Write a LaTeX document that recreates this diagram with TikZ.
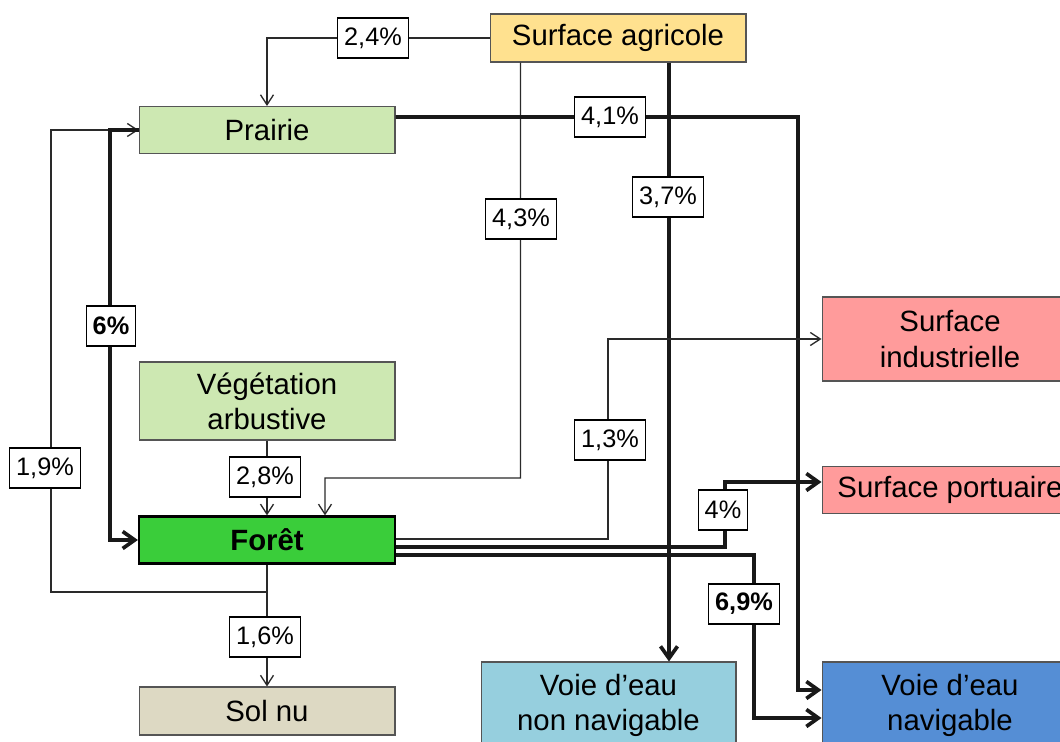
\documentclass[tikz,border=0pt]{standalone}
\usepackage{fontspec}
\setmainfont{Liberation Sans}
\usetikzlibrary{arrows.meta}
\definecolor{cagri}{HTML}{FFE18F}
\definecolor{cprai}{HTML}{CDE8B2}
\definecolor{cfor}{HTML}{3ACD3A}
\definecolor{csol}{HTML}{DDD9C3}
\definecolor{cvnn}{HTML}{96CFDE}
\definecolor{cind}{HTML}{FF9B9B}
\definecolor{cvn}{HTML}{558ED5}
\definecolor{cedge}{HTML}{555555}
\definecolor{cthin}{HTML}{2A2A2A}
\tikzset{
  box/.style={draw=cedge, line width=0.6pt, minimum width=5.12cm, align=center,
    inner sep=0pt, font=\fontsize{16.7}{20}\selectfont},
  lbl/.style={draw=black, fill=white, line width=0.7pt, minimum height=0.8cm,
    inner xsep=0.13cm, inner ysep=0pt, font=\fontsize{14.4}{16}\selectfont},
  thinline/.style={draw=cthin, line width=0.75pt, -{Straight Barb[length=0.2cm,width=0.26cm,line width=0.75pt]}},
  thickline/.style={draw=black!90, line width=2.1pt, -{Straight Barb[length=0.24cm,width=0.34cm,line width=2.1pt]}},
}
\begin{document}
\begin{tikzpicture}[x=0.02cm, y=-0.02cm]
\clip (0,0) rectangle (1060,742);
\fill[white] (0,0) rectangle (1060,742);

% boxes
\node[box, fill=cagri, minimum height=0.96cm] (agri) at (618,38) {Surface agricole};
\node[box, fill=cprai, minimum height=0.94cm] (prai) at (267,130) {Prairie};
\node[box, fill=cprai, minimum height=1.56cm] (veg) at (267,401) {Végétation\\arbustive};
\node[box, fill=cfor, draw=black, line width=1.3pt, minimum height=0.94cm, font=\fontsize{16.7}{20}\selectfont\bfseries] (foret) at (267,540) {Forêt};
\node[box, fill=csol, minimum height=0.96cm] (sol) at (267,711) {Sol nu};
\node[box, fill=cvnn, minimum width=5.1cm, minimum height=1.72cm] (vnn) at (608.5,705) {Voie d’eau\\non navigable};
\node[box, fill=cind, minimum height=1.68cm] (ind) at (950,339) {Surface\\industrielle};
\node[box, fill=cind, minimum height=0.94cm] (port) at (950,490) {Surface portuaire};
\node[box, fill=cvn, minimum height=1.72cm] (vn) at (950,705) {Voie d’eau\\navigable};

% bend coordinates
\coordinate (c43) at (325,478);
\coordinate (c41) at (798,117);
\coordinate (c6) at (110,130);
\coordinate (c19) at (51,592);
\coordinate (c13) at (608,539);
\coordinate (c4) at (725,547);
\coordinate (c69) at (754,555);

% connectors
\draw[thinline] (agri.west) -| (prai.north);
\draw[thinline] ([xshift=0.62cm]agri.south west) |- (c43) -- ([xshift=1.16cm]foret.north);
\draw[thickline] ([xshift=1.02cm]agri.south) -- ([xshift=1.02cm]agri.south |- vnn.north);
\draw[thickline] ([yshift=0.26cm]prai.east) -- (c41) |- ([yshift=0.3cm]vn.west);
\draw[thinline] (foret.south) |- (c19) |- (prai.west);
\draw[thickline] (prai.west) -- (c6) |- (foret.west);
\draw[thinline] (veg.south) -- (foret.north);
\draw[thinline] (foret.south) -- (sol.north);
\draw[thinline] ([yshift=0.02cm]foret.east) -- (c13) |- (ind.west);
\draw[thickline] ([yshift=-0.14cm]foret.east) -- (c4) |- ([yshift=0.16cm]port.west);
\draw[thickline] ([yshift=-0.3cm]foret.east) -- (c69) |- ([yshift=-0.26cm]vn.west);

% labels
\node[lbl] (l24) at (373,38) {2,4\%};
\node[lbl] (l43) at (521,219) {4,3\%};
\node[lbl] (l37) at (668,197) {3,7\%};
\node[lbl] (l41) at (610,117) {4,1\%};
\node[lbl, font=\fontsize{14.4}{16}\selectfont\bfseries] (l6) at (111,326) {6\%};
\node[lbl] (l19) at (45,468) {1,9\%};
\node[lbl] (l28) at (265,477) {2,8\%};
\node[lbl] (l16) at (265,637) {1,6\%};
\node[lbl] (l13) at (610,440) {1,3\%};
\node[lbl] (l4) at (723,510) {4\%};
\node[lbl, font=\fontsize{14.4}{16}\selectfont\bfseries] (l69) at (744,604) {6,9\%};
\end{tikzpicture}
\end{document}
